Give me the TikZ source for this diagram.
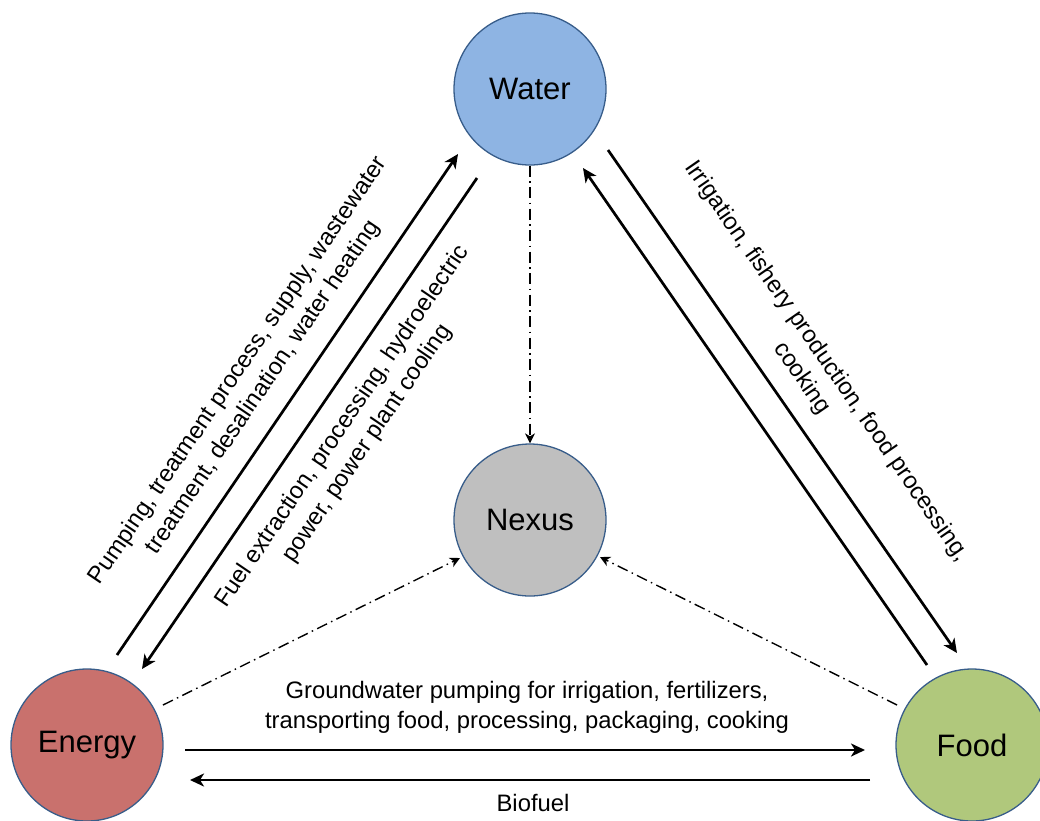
\documentclass[tikz,border=0pt]{standalone}
\usepackage{fontspec}
\setmainfont{Liberation Sans}
\usetikzlibrary{arrows.meta,calc}
\definecolor{outl}{RGB}{56,93,138}
\definecolor{watercol}{RGB}{142,180,227}
\definecolor{energycol}{RGB}{201,113,109}
\definecolor{foodcol}{RGB}{176,200,124}
\definecolor{nexuscol}{RGB}{191,191,191}
\begin{document}
\begin{tikzpicture}[x=1pt,y=-1pt,
  hub/.style={circle,draw=outl,line width=1.3pt,minimum size=152pt,inner sep=0pt,font=\fontsize{31}{36}\selectfont},
  arr/.style={line width=2.7pt,-{Stealth[length=14pt,width=13pt,inset=4pt]}},
  dd/.style={line width=1.4pt,dash pattern=on 11pt off 4.5pt on 1.5pt off 4.5pt,-{Stealth[length=10pt,width=10pt,inset=3pt]}},
  lab/.style={font=\fontsize{23.8}{30}\selectfont,align=center,inner sep=0pt}]
\useasboundingbox (0,0) rectangle (1040,820);
\node[hub,fill=watercol] (water) at (530,89) {Water};
\node[hub,fill=nexuscol] (nexus) at (530,520) {Nexus};
\node[hub,fill=energycol] (energy) at (87,745) {Energy};
\node[hub,fill=foodcol] (food) at (972,745) {Food};
% solid arrows
\draw[arr] ($(energy)+(30,-90)$) -- ($(water)+(-72,65)$);
\draw[arr] ($(water)+(-53,89)$) -- ($(energy)+(55,-76)$);
\draw[arr] ($(water)+(78,61)$) -- ($(food)+(-15,-92)$);
\draw[arr] ($(food)+(-45,-80)$) -- ($(water)+(53,79)$);
\draw[arr] ($(energy)+(98,5)$) -- ($(food)+(-107,5)$);
\draw[arr] ($(food)+(-102,35)$) -- ($(energy)+(103,35)$);
% dash-dot arrows to nexus
\draw[dd] (water) -- (nexus);
\draw[dd] ($(energy)+(76,-40)$) -- ($(nexus)+(-70,38)$);
\draw[dd] ($(food)+(-75,-40)$) -- ($(nexus)+(70,37)$);
% labels
\node[lab,rotate=55.8] (l1) at (251,379) {Pumping, treatment process, supply, wastewater\\treatment, desalination, water heating};
\node[lab,rotate=55.8] (l2) at (355,435) {Fuel extraction, processing, hydroelectric\\power, power plant cooling};
\node[lab,rotate=-55.3] (l3) at (814,370) {Irrigation, fishery production, food processing,\\cooking};
\node[lab] (l4) at (527,707) {Groundwater pumping for irrigation, fertilizers,\\transporting food, processing, packaging, cooking};
\node[lab] (l5) at (533,803) {Biofuel};
\end{tikzpicture}
\end{document}
